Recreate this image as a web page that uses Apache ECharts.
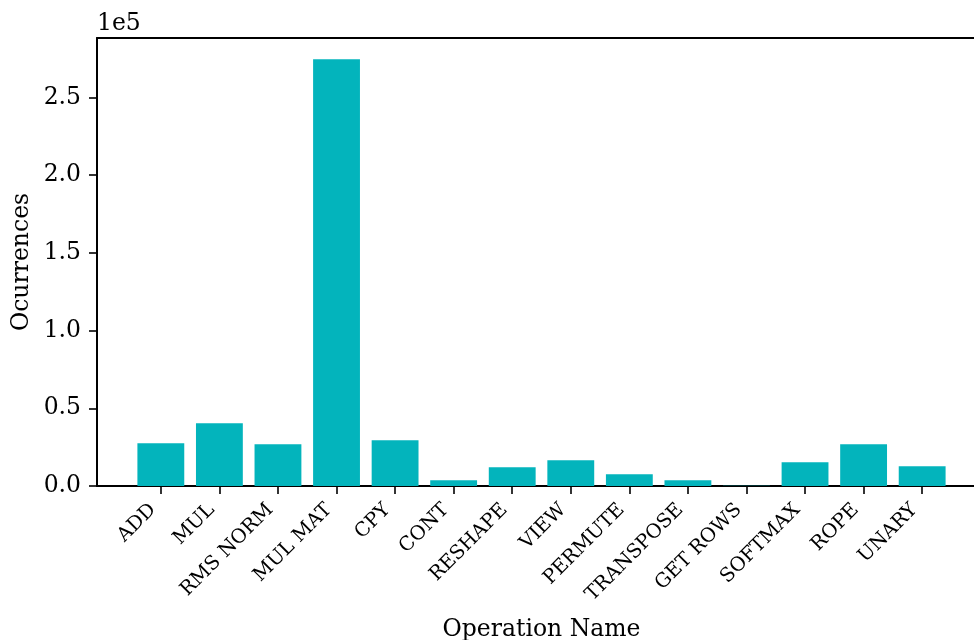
<!DOCTYPE html>
<html>
<head>
<meta charset="utf-8">
<script src="https://cdn.jsdelivr.net/npm/echarts@6/dist/echarts.min.js"></script>
<style>
  html, body { margin: 0; padding: 0; background: #ffffff; }
  #chart { width: 974px; height: 640px; }
</style>
</head>
<body>
<div id="chart"></div>
<script>
// Operation counts per op type
const categories = ['ADD', 'MUL', 'RMS NORM', 'MUL MAT', 'CPY', 'CONT', 'RESHAPE',
  'VIEW', 'PERMUTE', 'TRANSPOSE', 'GET ROWS', 'SOFTMAX', 'ROPE', 'UNARY'];
const occurrences = [27500, 40400, 26900, 274600, 29500, 3700, 12100,
  16600, 7600, 3700, 100, 15300, 26900, 12700];
const yTicks = [0, 50000, 100000, 150000, 200000, 250000];

const FONT = 'DejaVu Serif';
const positions = categories.map((_, i) => i);
// 5% padding around the data, on both axes' far ends
const yMax = Math.max(...occurrences) * 1.05;
const xMin = -0.4 - 13.8 * 0.05;
const xMax = 13.4 + 13.8 * 0.05;

const chart = echarts.init(document.getElementById('chart'), null, { renderer: 'canvas' });

chart.setOption({
  animation: false,
  backgroundColor: '#ffffff',
  textStyle: { fontFamily: FONT },
  grid: { left: 97, top: 38, right: -12, bottom: 154, outerBoundsMode: 'none' },
  xAxis: [{
    type: 'value',
    min: xMin,
    max: xMax,
    name: 'Operation Name',
    nameLocation: 'middle',
    nameGap: 132,
    nameTextStyle: { fontFamily: FONT, fontSize: 23.5, color: '#000', verticalAlign: 'top' },
    splitLine: { show: false },
    axisLine: { show: true, onZero: false, lineStyle: { color: '#000', width: 2 } },
    axisTick: { show: true, customValues: positions, length: 8, lineStyle: { color: '#000', width: 1.6 } },
    axisLabel: {
      customValues: positions,
      rotate: 45,
      margin: 13,
      padding: [0, 11, 0, 0],
      fontFamily: FONT,
      fontSize: 19.5,
      color: '#000',
      formatter: v => categories[Math.round(v)]
    }
  }, {
    type: 'value',
    position: 'top',
    min: xMin,
    max: xMax,
    splitLine: { show: false },
    axisLine: { show: true, onZero: false, lineStyle: { color: '#000', width: 2 } },
    axisTick: { show: false },
    axisLabel: { show: false }
  }],
  yAxis: [{
    type: 'value',
    min: 0,
    max: yMax,
    interval: 50000,
    name: '1e5',
    nameLocation: 'end',
    nameGap: 14,
    nameTextStyle: { fontFamily: FONT, fontSize: 23.5, color: '#000', align: 'left', verticalAlign: 'middle' },
    splitLine: { show: false },
    axisLine: { show: true, onZero: false, lineStyle: { color: '#000', width: 2 } },
    axisTick: { show: true, customValues: yTicks, length: 8, lineStyle: { color: '#000', width: 1.6 } },
    axisLabel: {
      customValues: yTicks,
      margin: 16,
      fontFamily: FONT,
      fontSize: 23.5,
      color: '#000',
      formatter: v => (v / 1e5).toFixed(1)
    }
  }, {
    // carries the rotated y title only
    type: 'value',
    position: 'left',
    min: 0,
    max: yMax,
    name: 'Ocurrences',
    nameLocation: 'middle',
    nameGap: 63,
    nameRotate: 90,
    nameTextStyle: { fontFamily: FONT, fontSize: 23.5, color: '#000' },
    splitLine: { show: false },
    axisLine: { show: false, onZero: false },
    axisTick: { show: false },
    axisLabel: { show: false }
  }],
  series: [{
    type: 'bar',
    name: 'Ocurrences',
    barWidth: '80%',
    itemStyle: { color: '#03b4bc' },
    data: positions.map(i => [i, occurrences[i]])
  }]
});
</script>
</body>
</html>
